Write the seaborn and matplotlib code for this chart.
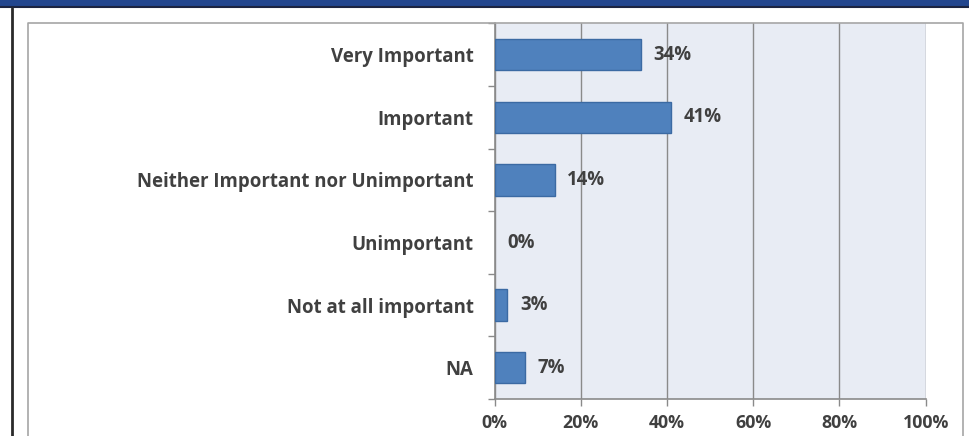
import matplotlib
matplotlib.use("Agg")
import matplotlib.pyplot as plt
from matplotlib.patches import Rectangle
from matplotlib.lines import Line2D
from matplotlib.ticker import FuncFormatter
import seaborn as sns
import pandas as pd

categories = ["Very Important", "Important", "Neither Important nor Unimportant",
              "Unimportant", "Not at all important", "NA"]
values = [34, 41, 14, 0, 3, 7]
x_ticks = [0, 20, 40, 60, 80, 100]

df = pd.DataFrame({"category": categories, "value": values})

sns.set_style("white")
plt.rcParams["font.family"] = ["Open Sans", "DejaVu Sans"]

W, H = 969, 436
FS = 13.4
fig = plt.figure(figsize=(W / 100, H / 100), dpi=100)
fig.patch.set_facecolor("white")

def fx(px):
    return px / W

def fy(py):
    return 1 - py / H

# header band and frame
fig.add_artist(Rectangle((0, fy(7)), 1, 7 / H, transform=fig.transFigure,
                         facecolor="#22468e", edgecolor="none", zorder=0))
fig.add_artist(Line2D([0, 1], [fy(7.5), fy(7.5)], transform=fig.transFigure,
                      color="#1b2440", lw=1.5))
fig.add_artist(Line2D([fx(11.5), fx(11.5)], [fy(8), 0], transform=fig.transFigure,
                      color="#2a2a2a", lw=2))
fig.add_artist(Line2D([fx(28), fx(28), fx(963), fx(963)], [0, fy(23), fy(23), 0],
                      transform=fig.transFigure, color="#a6a6a6", lw=1.2))

ax = fig.add_axes([fx(494.5), fy(399), fx(925.7 - 494.5), (399 - 23.5) / H])
ax.set_facecolor("#e8ecf4")

sns.barplot(data=df, x="value", y="category", orient="h", ax=ax,
            color="#4f81bd", edgecolor="#3b6aa3", linewidth=1.0,
            width=0.5, saturation=1, zorder=3)
# an empty bar leaves no outline behind
for bar in ax.patches:
    if bar.get_width() == 0:
        bar.set_linewidth(0)

ax.set_xlim(0, 100)
ax.set_ylim(len(categories) - 0.5, -0.5)
ax.set_xticks(x_ticks)
ax.xaxis.set_major_formatter(FuncFormatter(lambda v, p: f"{v:.0f}%"))
ax.set_yticks(range(len(categories)))
ax.set_yticklabels(categories)
ax.set_yticks([i - 0.5 for i in range(len(categories) + 1)], minor=True)
ax.set_xlabel("")
ax.set_ylabel("")

ax.grid(axis="x", color="#8a8a8a", lw=1.0, zorder=1)
ax.set_axisbelow(True)
for side in ["top", "right"]:
    ax.spines[side].set_visible(False)
for side in ["left", "bottom"]:
    ax.spines[side].set_color("#8a8a8a")
    ax.spines[side].set_linewidth(1.2)

ax.tick_params(axis="y", which="major", length=0, pad=15,
               labelsize=FS, labelcolor="#404040")
ax.tick_params(axis="y", which="minor", length=5, width=1, color="#8a8a8a", left=True)
ax.tick_params(axis="x", which="major", length=5, width=1, color="#8a8a8a", bottom=True,
               pad=6, labelsize=12.8, labelcolor="#404040")
for lbl in ax.get_yticklabels() + ax.get_xticklabels():
    lbl.set_fontweight("bold")

for i, v in enumerate(values):
    ax.annotate(f"{v}%", xy=(v, i), xytext=(9, 0), textcoords="offset points",
                ha="left", va="center", fontsize=FS, fontweight="bold",
                color="#404040", zorder=4)

fig.savefig("out.png", dpi=100)
